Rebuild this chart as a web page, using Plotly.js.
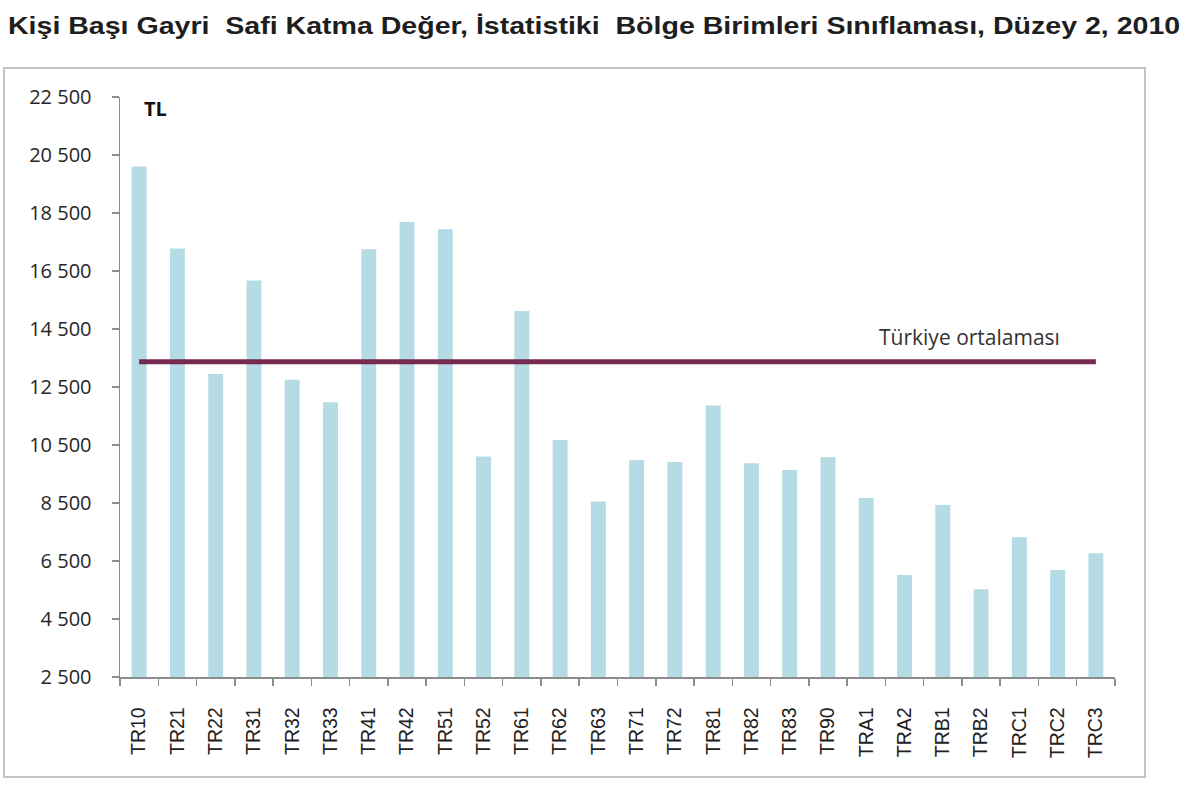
<!DOCTYPE html>
<html>
<head>
<meta charset="utf-8">
<script src="https://cdn.plot.ly/plotly-3.0.1.min.js"></script>
<style>
html,body{margin:0;padding:0;background:#fff;}
#chart{width:1200px;height:785px;}
#chart .gtitle{transform:scaleX(1.19);}
</style>
</head>
<body>
<div id="chart"></div>
<script>
const regions = ["TR10","TR21","TR22","TR31","TR32","TR33","TR41","TR42","TR51","TR52","TR61","TR62","TR63","TR71","TR72","TR81","TR82","TR83","TR90","TRA1","TRA2","TRB1","TRB2","TRC1","TRC2","TRC3"];
const perCapitaGVA = [20100,17280,12950,16170,12750,11970,17250,18190,17940,10100,15120,10670,8550,9980,9910,11860,9870,9640,10080,8670,6020,8430,5530,7320,6190,6770];
const turkeyAverage = 13370;
const averageLabel = "Türkiye ortalaması";
const unitLabel = "TL";
const chartTitle = "Kişi Başı Gayri  Safi Katma Değer, İstatistiki  Bölge Birimleri Sınıflaması, Düzey 2, 2010";

const bars = {
  type: 'bar',
  x: regions,
  y: perCapitaGVA,
  marker: {color: '#b5dbe4'},
  hoverinfo: 'x+y'
};
const avgLine = {
  type: 'scatter',
  mode: 'lines',
  x: [regions[0], regions[regions.length-1]],
  y: [turkeyAverage, turkeyAverage],
  line: {color: '#772a4f', width: 5},
  hoverinfo: 'y'
};

const layout = {
  width: 1200, height: 785,
  margin: {l: 120, r: 85, t: 97, b: 108},
  paper_bgcolor: '#ffffff',
  plot_bgcolor: '#ffffff',
  showlegend: false,
  bargap: 0.61,
  separators: '. ',
  title: {
    text: '<b>' + chartTitle + '</b>',
    x: 0.0056, xanchor: 'left', xref: 'container',
    y: 0.968, yanchor: 'middle', yref: 'container',
    font: {family: 'Liberation Sans, Arial, sans-serif', size: 24, color: '#1e1e1e'}
  },
  xaxis: {
    type: 'category',
    showgrid: false, zeroline: false,
    showline: true, linecolor: '#8c8c8c', linewidth: 1.5,
    ticks: 'outside', ticklen: 7, tickcolor: '#8c8c8c', tickwidth: 1.5,
    tickson: 'boundaries',
    tickangle: -90,
    ticklabelstandoff: 21,
    tickfont: {family: 'Liberation Sans, Arial, sans-serif', size: 19.5, color: '#222'}
  },
  yaxis: {
    range: [2500, 22500],
    tick0: 2500, dtick: 2000,
    tickformat: ',d',
    showgrid: false, zeroline: false,
    showline: true, linecolor: '#8c8c8c', linewidth: 1.5,
    ticks: 'outside', ticklen: 7, tickcolor: '#8c8c8c', tickwidth: 1.5,
    ticklabelstandoff: 16,
    tickfont: {family: 'Open Sans, Lato, sans-serif', size: 20, color: '#262626'}
  },
  shapes: [{
    type: 'rect', xref: 'paper', yref: 'paper',
    x0: -116/995, x1: 1025/995, y0: -100/580, y1: 609/580,
    line: {color: '#c4c4c4', width: 2}, fillcolor: 'rgba(0,0,0,0)', layer: 'below'
  }],
  annotations: [
    {
      text: '<b>' + unitLabel + '</b>', xref: 'paper', yref: 'paper',
      x: 0.022, y: 0.981, xanchor: 'left', yanchor: 'middle', showarrow: false,
      font: {family: 'Open Sans, Lato, sans-serif', size: 20, color: '#111'}
    },
    {
      text: averageLabel, xref: 'paper', yref: 'y',
      x: 0.854, y: 14230, xanchor: 'center', yanchor: 'middle', showarrow: false,
      font: {family: 'Open Sans, Lato, sans-serif', size: 21, color: '#333'}
    }
  ]
};

Plotly.newPlot('chart', [bars, avgLine], layout, {displayModeBar: false, staticPlot: true});
</script>
</body>
</html>
